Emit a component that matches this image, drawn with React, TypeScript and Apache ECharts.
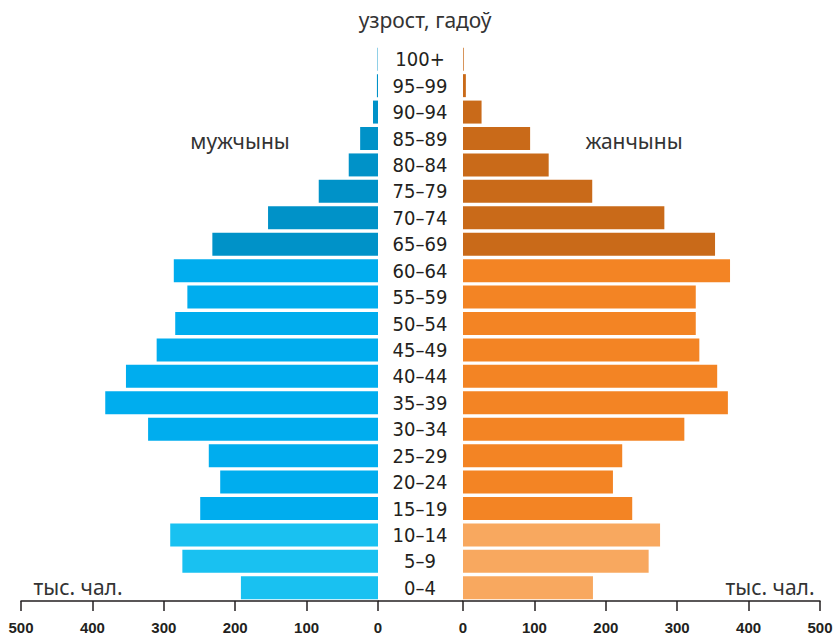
import React, { useEffect, useRef } from "react";
import * as echarts from "echarts";

const ageGroups = ["0–4", "5–9", "10–14", "15–19", "20–24", "25–29", "30–34", "35–39", "40–44", "45–49", "50–54", "55–59", "60–64", "65–69", "70–74", "75–79", "80–84", "85–89", "90–94", "95–99", "100+"];
const men = [192, 274, 291, 249, 221, 237, 322, 382, 353, 310, 284, 267, 286, 232, 154, 83, 41, 25, 7, 1.5, 0.6];
const women = [182, 260, 276, 237, 210, 223, 310, 371, 356, 331, 326, 326, 374, 353, 282, 181, 120, 94, 26, 4, 1];
const axisMax = 500;
const axisStep = 100;

const menColors = ["#19C1F1", "#00ADEE", "#0092C8"];
const womenColors = ["#F8A85F", "#F38424", "#C96A19"];
const groupOf = (i: number) => (i < 3 ? 0 : i < 13 ? 1 : 2);

const TXT = "#231F20";

export default function App() {
  const ref = useRef<HTMLDivElement>(null);
  useEffect(() => {
    if (!ref.current) return;
    const chart = echarts.init(ref.current, undefined, { renderer: "svg" });
    const valueAxisCommon = {
      type: "value" as const,
      min: 0,
      max: axisMax,
      interval: axisStep,
      splitLine: { show: false },
      axisLine: { show: true, lineStyle: { color: TXT, width: 1.5 } },
      axisTick: { show: true, length: 10, lineStyle: { color: TXT, width: 1.5 } },
      axisLabel: {
        color: TXT,
        fontFamily: "Liberation Sans, Arial, sans-serif",
        fontWeight: "bold" as const,
        fontSize: 15,
        margin: 19,
      },
    };
    const textFont = "21px 'Noto Sans', sans-serif";
    const txt = (text: string, x: number, y: number) => ({
      type: "text",
      x,
      y,
      style: { text, fill: "#333", font: textFont, textAlign: "center", textVerticalAlign: "middle" },
    });
    chart.setOption({
      animation: false,
      grid: [
        { left: 21, width: 357, top: 46, height: 555 },
        { left: 463, width: 357, top: 46, height: 555 },
      ],
      xAxis: [
        { ...valueAxisCommon, gridIndex: 0, inverse: true },
        { ...valueAxisCommon, gridIndex: 1 },
      ],
      yAxis: [
        {
          type: "category",
          gridIndex: 0,
          data: ageGroups,
          axisLine: { show: false },
          axisTick: { show: false },
          axisLabel: { show: false },
        },
        {
          type: "category",
          gridIndex: 1,
          data: ageGroups,
          position: "left",
          axisLine: { show: false },
          axisTick: { show: false },
          axisLabel: {
            show: true,
            interval: 0,
            align: "center",
            margin: 43,
            color: TXT,
            fontFamily: "DejaVu Sans Condensed, sans-serif",
            fontSize: 20,
          },
        },
      ],
      series: [
        {
          type: "bar",
          xAxisIndex: 0,
          yAxisIndex: 0,
          barCategoryGap: "13%",
          data: men.map((v, i) => ({ value: v, itemStyle: { color: menColors[groupOf(i)] } })),
        },
        {
          type: "bar",
          xAxisIndex: 1,
          yAxisIndex: 1,
          barCategoryGap: "13%",
          data: women.map((v, i) => ({ value: v, itemStyle: { color: womenColors[groupOf(i)] } })),
        },
      ],
      graphic: [
        {
          type: "line",
          shape: { x1: 378, y1: 601, x2: 463, y2: 601 },
          style: { stroke: TXT, lineWidth: 1.5 },
        },
        txt("узрост, гадоў", 425, 20),
        txt("мужчыны", 240, 141),
        txt("жанчыны", 634, 141),
        txt("тыс. чал.", 78, 587),
        txt("тыс. чал.", 770, 587),
      ],
    });
    return () => chart.dispose();
  }, []);
  return <div ref={ref} style={{ width: 837, height: 636, position: "absolute", left: 0, top: 0 }} />;
}
